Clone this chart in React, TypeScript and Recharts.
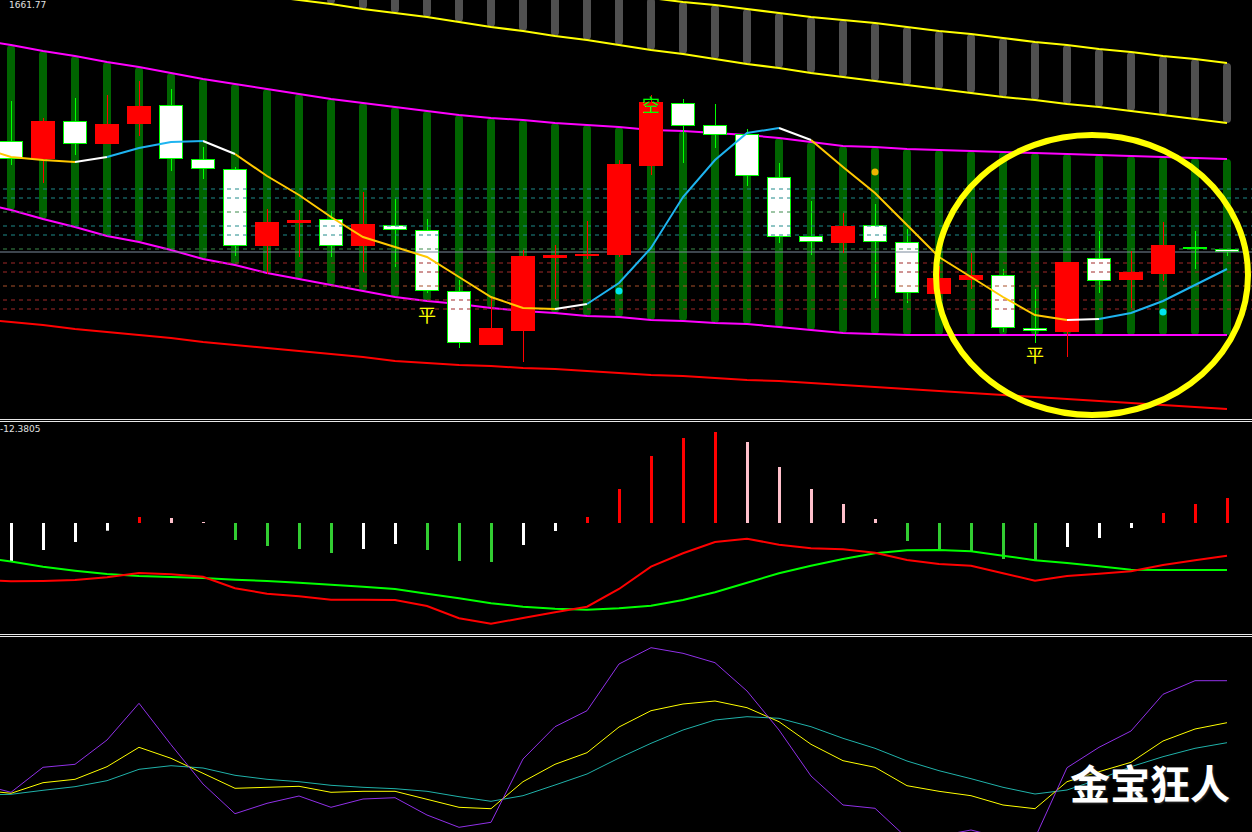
import { ComposedChart, Bar, Line, XAxis, YAxis, ReferenceLine, ReferenceDot, Cell } from 'recharts'

// bar 0 sits just off the left edge: only its line values show
const bars = Array.from({ length: 40 }, (_, i) => i)

// price candles
const open = [null, 1665.9, 1664.1, 1667.9, 1665.6, 1667.6, 1669.5, 1664.1, 1663.1, 1655.4, 1657.7, 1658.1, 1655.4, 1657.5, 1657.0, 1650.9, 1645.5, 1646.9, 1654.2, 1654.4, 1654.5, 1663.4, 1669.7, 1667.5, 1666.6, 1662.3, 1656.4, 1655.7, 1657.5, 1655.8, 1650.6, 1652.0, 1652.5, 1647.2, 1646.8, 1654.2, 1652.0, 1652.6, 1655.2, 1655.1]
const close = [null, 1664.1, 1667.9, 1665.6, 1667.6, 1669.4, 1664.1, 1663.1, 1655.4, 1657.8, 1658.0, 1655.4, 1657.6, 1657.0, 1650.9, 1645.7, 1647.2, 1654.4, 1654.5, 1654.6, 1663.6, 1669.8, 1667.4, 1666.5, 1662.4, 1656.3, 1655.8, 1657.4, 1655.8, 1650.7, 1652.2, 1652.5, 1647.2, 1646.9, 1653.8, 1651.9, 1652.8, 1655.5, 1655.2, 1654.8]
const high = [null, 1669.9, 1668.2, 1670.2, 1670.5, 1671.9, 1671.1, 1665.3, 1663.3, 1659.1, 1659.0, 1658.9, 1660.8, 1660.1, 1658.1, 1652.0, 1650.2, 1655.0, 1655.5, 1657.9, 1664.0, 1670.5, 1670.1, 1669.6, 1667.1, 1663.7, 1659.9, 1658.7, 1659.6, 1657.1, 1653.4, 1654.7, 1653.1, 1651.1, 1653.8, 1656.9, 1654.9, 1657.8, 1656.9, 1655.1]
const low = [null, 1663.5, 1661.7, 1664.5, 1665.6, 1666.4, 1662.9, 1662.1, 1654.4, 1652.6, 1654.3, 1654.3, 1652.8, 1653.3, 1650.7, 1645.2, 1645.5, 1643.8, 1650.1, 1654.1, 1654.3, 1662.5, 1663.7, 1665.2, 1661.4, 1655.7, 1654.5, 1654.7, 1650.2, 1649.7, 1650.6, 1651.1, 1646.8, 1645.7, 1644.3, 1650.7, 1649.2, 1651.9, 1653.1, 1654.4]

// magenta channel (green bars fill it)
const bandHigh = [1676.0, 1675.5, 1674.9, 1674.4, 1673.8, 1673.3, 1672.7, 1672.1, 1671.6, 1671.1, 1670.6, 1670.1, 1669.7, 1669.3, 1668.9, 1668.5, 1668.2, 1668.0, 1667.7, 1667.5, 1667.3, 1667.0, 1666.9, 1666.7, 1666.5, 1666.2, 1665.8, 1665.4, 1665.3, 1665.1, 1665.0, 1664.9, 1664.8, 1664.7, 1664.6, 1664.5, 1664.4, 1664.3, 1664.2, 1664.1]
const bandLow = [1659.7, 1659.0, 1658.1, 1657.3, 1656.4, 1655.8, 1655.0, 1654.1, 1653.5, 1652.7, 1652.1, 1651.5, 1650.9, 1650.3, 1649.9, 1649.6, 1649.2, 1648.9, 1648.7, 1648.4, 1648.3, 1648.0, 1647.9, 1647.7, 1647.6, 1647.3, 1647.0, 1646.7, 1646.6, 1646.5, 1646.5, 1646.5, 1646.5, 1646.5, 1646.5, 1646.5, 1646.5, 1646.5, 1646.5, 1646.5]

// yellow channel (grey bars fill it)
const railTop = [null, null, null, null, null, null, null, null, null, null, 1684.2, 1683.8, 1683.5, 1683.1, 1682.7, 1682.4, 1682.0, 1681.7, 1681.3, 1680.9, 1680.6, 1680.2, 1679.8, 1679.5, 1679.1, 1678.7, 1678.3, 1678.0, 1677.7, 1677.3, 1676.9, 1676.6, 1676.2, 1675.8, 1675.5, 1675.1, 1674.8, 1674.4, 1674.1, 1673.7]
const railBottom = [null, null, null, null, null, null, null, null, null, 1680.4, 1680.0, 1679.6, 1679.1, 1678.7, 1678.3, 1677.8, 1677.3, 1676.9, 1676.4, 1676.0, 1675.5, 1675.0, 1674.6, 1674.1, 1673.6, 1673.2, 1672.7, 1672.3, 1671.9, 1671.5, 1671.1, 1670.7, 1670.3, 1670.0, 1669.6, 1669.3, 1668.9, 1668.5, 1668.1, 1667.7]

// red support line
const support = [1648.1, 1647.8, 1647.5, 1647.1, 1646.8, 1646.5, 1646.2, 1645.8, 1645.5, 1645.2, 1644.9, 1644.6, 1644.3, 1643.9, 1643.7, 1643.5, 1643.4, 1643.2, 1643.1, 1642.9, 1642.7, 1642.5, 1642.4, 1642.2, 1642.0, 1641.9, 1641.7, 1641.5, 1641.3, 1641.1, 1640.9, 1640.7, 1640.5, 1640.3, 1640.1, 1639.9, 1639.7, 1639.5, 1639.3, 1639.1]

// moving average and the colour of each segment (Y yellow, W white, C cyan)
const ma = [1665.3, 1664.3, 1664.0, 1663.8, 1664.3, 1665.2, 1665.8, 1665.9, 1664.6, 1662.4, 1660.5, 1658.3, 1656.3, 1655.3, 1654.3, 1652.3, 1650.3, 1649.2, 1649.1, 1649.6, 1651.7, 1655.2, 1660.3, 1664.0, 1666.7, 1667.2, 1666.0, 1663.3, 1660.7, 1657.5, 1654.3, 1652.3, 1650.3, 1648.5, 1648.0, 1648.1, 1648.7, 1649.9, 1651.5, 1653.1]
const maSegments = 'YYYWCCCWYYYYYYYYYYWCCCCCCWYYYYYYYYWCCCC'

const dashedUpper = [1661.1, 1660.2, 1657.4, 1656.5]
const dashedGreen = [1658.8, 1655.1]
const priceLine = 1654.8
const dashedLower = [1653.7, 1652.8, 1650.0, 1649.1]
const dashedOrange = [1651.4]

const signalDots = [
  { bar: 20, price: 1650.9, color: '#00e5f0' },
  { bar: 28, price: 1662.8, color: '#f0b400' },
  { bar: 37, price: 1648.8, color: '#00e5f0' },
]
const signalText = [
  { bar: 14, price: 1648.6, text: '平', color: '#ffff00' },
  { bar: 21, price: 1669.6, text: '空', color: '#00ff00' },
  { bar: 33, price: 1644.6, text: '平', color: '#ffff00' },
]

// MACD panel
const hist = [null, -3.87, -2.7, -1.9, -0.77, 0.6, 0.5, 0.1, -1.7, -2.3, -2.6, -3.0, -2.6, -2.1, -2.7, -3.8, -3.9, -2.2, -0.8, 0.6, 3.4, 6.7, 8.5, 9.1, 8.1, 5.6, 3.4, 1.9, 0.4, -1.8, -2.6, -2.8, -3.6, -3.8, -2.4, -1.5, -0.5, 1.0, 1.9, 2.5]
const macdRed = [-5.7, -5.83, -5.8, -5.7, -5.43, -5.0, -5.13, -5.37, -6.53, -7.07, -7.33, -7.67, -7.67, -7.7, -8.3, -9.53, -10.07, -9.5, -8.93, -8.37, -6.6, -4.37, -3.03, -1.9, -1.57, -2.17, -2.53, -2.63, -2.97, -3.7, -4.1, -4.27, -5.03, -5.77, -5.3, -5.07, -4.83, -4.2, -3.73, -3.27]
const macdGreen = [-3.4, -3.85, -4.37, -4.77, -5.1, -5.3, -5.4, -5.5, -5.67, -5.8, -5.97, -6.17, -6.37, -6.6, -7.07, -7.53, -8.03, -8.37, -8.57, -8.67, -8.52, -8.27, -7.7, -6.93, -5.97, -5.03, -4.27, -3.6, -3.03, -2.73, -2.7, -2.83, -3.27, -3.73, -4.0, -4.33, -4.67, -4.7, -4.7, -4.7]

// KDJ panel
const kLine = [24, 19.85, 32.35, 33.85, 46, 64.35, 43.65, 24, 9.15, 14.35, 18, 12.35, 16.5, 17.15, 8.5, 2.35, 4.85, 36.5, 52.65, 60.65, 84, 92.15, 89.35, 84.65, 70.5, 51, 28, 13.5, 11.85, -3, -2, 1, -3, -3, 32.15, 42.35, 50.5, 68.85, 75.65, 75.65]
const dLine = [21, 19.35, 24.65, 26.35, 32.65, 42.35, 36.85, 29.35, 21.85, 22.35, 22.85, 19.85, 20.35, 20.35, 16.35, 12.35, 11.65, 25.15, 33.85, 39.65, 52.5, 60.65, 64, 65.5, 62.15, 55.15, 43.85, 35.65, 32.35, 23.15, 20.35, 18.15, 13.5, 11.65, 25.15, 30.15, 34.85, 45.5, 51.5, 54.65]
const jLine = [18.5, 18.85, 20.85, 22.65, 25.65, 31.35, 33.15, 32, 28.35, 26.35, 25.15, 23.35, 22.35, 21.65, 20.35, 17.65, 15.35, 18.15, 23.5, 29, 37, 44.35, 51, 56, 57.65, 56.85, 52.65, 46.85, 41.85, 35.5, 30.65, 26.65, 22.35, 19, 21, 26.35, 32.65, 37.65, 41.85, 44.65]

const W = 1289
const LEFT = -37
const PAD = { left: 0, right: 9 }
const NO_MARGIN = { top: 0, right: 0, bottom: 0, left: 0 }
const TOP_H = 418
const TOP_DOMAIN = [1638.2, 1680]
const MID_TOP = 422
const MID_H = 211
const MID_DOMAIN = [-11, 10.1]
const BOT_TOP = 637
const BOT_H = 195
const BOT_DOMAIN = [0, 97.5]

const maPart = (c: string) => ma.map((v, i) => (maSegments[i] === c || maSegments[i - 1] === c ? v : null))
const maYellow = maPart('Y')
const maWhite = maPart('W')
const maCyan = maPart('C')

const topData = bars.map((k, i) => {
  const has = open[i] != null
  const up = has && close[i]! >= open[i]!
  return {
    k,
    o: open[i],
    c: close[i],
    h: high[i],
    l: low[i],
    rise: has && up ? [low[i], high[i]] : null,
    fall: has && !up ? [low[i], high[i]] : null,
    band: i > 0 ? [bandLow[i], bandHigh[i]] : null,
    rail: railTop[i] != null && railBottom[i] != null ? [railBottom[i], railTop[i]] : null,
    bandHigh: bandHigh[i],
    bandLow: bandLow[i],
    railTop: railTop[i],
    railBottom: railBottom[i],
    support: support[i],
    maY: maYellow[i],
    maW: maWhite[i],
    maC: maCyan[i],
  }
})

function histColor(i: number) {
  const v = hist[i]
  const prev = hist[i - 1]
  if (v == null) return 'transparent'
  if (prev == null) return v >= 0 ? '#ff0000' : '#ffffff'
  if (v >= 0) return v >= prev ? '#ff0000' : '#ffc0cb'
  return v < prev ? '#32cd32' : '#ffffff'
}

const midData = bars.map((k, i) => ({ k, hist: hist[i], red: macdRed[i], green: macdGreen[i] }))
const botData = bars.map((k, i) => ({ k, kv: kLine[i], dv: dLine[i], jv: jLine[i] }))

function Candle(props: any) {
  const { x, y, width, height, payload } = props
  if (!payload || payload.o == null || height == null) return null
  const top = Math.min(y, y + height)
  const span = Math.abs(height)
  const k = span / (payload.h - payload.l)
  const py = (v: number) => top + (payload.h - v) * k
  const cx = Math.round(x + width / 2) + 0.5
  const bTop = Math.round(py(Math.max(payload.o, payload.c)))
  const bBot = Math.round(py(Math.min(payload.o, payload.c)))
  const doji = payload.o === payload.c
  const up = payload.c > payload.o
  const wick = up ? '#ff0000' : '#00ff00'
  return (
    <g>
      <line x1={cx} x2={cx} y1={top} y2={top + span} stroke={wick} strokeWidth={1} />
      {doji ? (
        <rect x={x} y={bTop - 1} width={width} height={2} fill="#00ff00" />
      ) : up ? (
        <rect x={x} y={bTop} width={width} height={Math.max(bBot - bTop, 1)} fill="#ff0000" />
      ) : (
        <rect x={x + 0.5} y={bTop + 0.5} width={width - 1} height={Math.max(bBot - bTop - 1, 1)} fill="#ffffff" stroke="#00ff00" strokeWidth={1} />
      )}
    </g>
  )
}

function Layer({ data, height, domain, top, children }: any) {
  return (
    <div style={{ position: 'absolute', left: LEFT, top }}>
      <ComposedChart width={W} height={height} data={data} margin={NO_MARGIN}>
        <XAxis dataKey="k" hide padding={PAD} scale="band" />
        <XAxis dataKey="k" hide padding={PAD} scale="band" xAxisId="b" />
        <XAxis dataKey="k" hide padding={PAD} scale="band" xAxisId="c" />
        <YAxis hide domain={domain} allowDataOverflow />
        {children}
      </ComposedChart>
    </div>
  )
}

const sep = (top: number) => (
  <div style={{ position: 'absolute', left: 0, top, width: 1252, height: 1, background: '#e8e8e8' }} />
)

export default function App() {
  return (
    <div style={{ position: 'fixed', left: 0, top: 0, width: 1252, height: 832, background: '#000', overflow: 'hidden' }}>
      <style>{'.crisp rect { shape-rendering: crispEdges; }'}</style>

      {/* price panel: channels behind */}
      <Layer data={topData} height={TOP_H} domain={TOP_DOMAIN} top={0}>
        <Bar dataKey="rail" xAxisId="b" barSize={8} fill="#505050" radius={4} isAnimationActive={false} />
        <Bar dataKey="band" xAxisId="c" barSize={8} fill="#006400" radius={4} isAnimationActive={false} />
        <Line dataKey="bandHigh" stroke="#ff00ff" strokeWidth={2} dot={false} isAnimationActive={false} />
        <Line dataKey="bandLow" stroke="#ff00ff" strokeWidth={2} dot={false} isAnimationActive={false} />
        <Line dataKey="railTop" stroke="#ffff00" strokeWidth={2} dot={false} isAnimationActive={false} />
        <Line dataKey="railBottom" stroke="#ffff00" strokeWidth={2} dot={false} isAnimationActive={false} />
        <Line dataKey="support" stroke="#ff0000" strokeWidth={2} dot={false} isAnimationActive={false} />
      </Layer>

      <div className="crisp">
        <Layer data={topData} height={TOP_H} domain={TOP_DOMAIN} top={0}>
          <Bar dataKey="fall" xAxisId="c" barSize={24} shape={Candle} isAnimationActive={false} />
        </Layer>
      </div>

      <Layer data={topData} height={TOP_H} domain={TOP_DOMAIN} top={0}>
        {dashedUpper.map((p) => (
          <ReferenceLine key={'u' + p} y={p} stroke="#1f8a8a" strokeDasharray="4 4" />
        ))}
        {dashedGreen.map((p) => (
          <ReferenceLine key={'g' + p} y={p} stroke="#3a8a4a" strokeDasharray="4 4" />
        ))}
        <ReferenceLine y={priceLine} stroke="#7a8a9c" />
        {dashedLower.map((p) => (
          <ReferenceLine key={'l' + p} y={p} stroke="#a02828" strokeDasharray="4 4" />
        ))}
        {dashedOrange.map((p) => (
          <ReferenceLine key={'o' + p} y={p} stroke="#a8502a" strokeDasharray="4 4" />
        ))}
      </Layer>

      <div className="crisp">
        <Layer data={topData} height={TOP_H} domain={TOP_DOMAIN} top={0}>
          <Bar dataKey="rise" xAxisId="c" barSize={24} shape={Candle} isAnimationActive={false} />
        </Layer>
      </div>

      <Layer data={topData} height={TOP_H} domain={TOP_DOMAIN} top={0}>
        <Line dataKey="maY" stroke="#ffc800" strokeWidth={2} dot={false} isAnimationActive={false} />
        <Line dataKey="maW" stroke="#ffffff" strokeWidth={2} dot={false} isAnimationActive={false} />
        <Line dataKey="maC" stroke="#1eb4f0" strokeWidth={2} dot={false} isAnimationActive={false} />
        {signalDots.map((d) => (
          <ReferenceDot key={'d' + d.bar} x={d.bar} y={d.price} r={3.5} fill={d.color} stroke="none" />
        ))}
        {signalText.map((t) => (
          <ReferenceDot
            key={'t' + t.bar}
            x={t.bar}
            y={t.price}
            r={0}
            shape={(p: any) => (
              <text
                x={p.cx}
                y={p.cy}
                fill={t.color}
                fontSize={18}
                fontFamily="Noto Sans CJK SC"
                textAnchor="middle"
                dominantBaseline="central"
              >
                {t.text}
              </text>
            )}
          />
        ))}
      </Layer>

      <svg width={1252} height={832} style={{ position: 'absolute', left: 0, top: 0 }}>
        <ellipse cx={1092} cy={275} rx={156} ry={140} fill="none" stroke="#ffff00" strokeWidth={6} />
      </svg>

      {sep(419)}
      {sep(421)}

      {/* MACD panel */}
      <div className="crisp">
        <Layer data={midData} height={MID_H} domain={MID_DOMAIN} top={MID_TOP}>
          <Bar dataKey="hist" barSize={3} isAnimationActive={false}>
            {midData.map((_, i) => (
              <Cell key={i} fill={histColor(i)} />
            ))}
          </Bar>
          <Line dataKey="green" stroke="#00ff00" strokeWidth={2} dot={false} isAnimationActive={false} />
          <Line dataKey="red" stroke="#ff0000" strokeWidth={2} dot={false} isAnimationActive={false} />
        </Layer>
      </div>

      {sep(634)}
      {sep(636)}

      {/* KDJ panel */}
      <Layer data={botData} height={BOT_H} domain={BOT_DOMAIN} top={BOT_TOP}>
        <Line dataKey="jv" stroke="#20b2aa" strokeWidth={1} dot={false} isAnimationActive={false} />
        <Line dataKey="dv" stroke="#ffff00" strokeWidth={1} dot={false} isAnimationActive={false} />
        <Line dataKey="kv" stroke="#9030e8" strokeWidth={1} dot={false} isAnimationActive={false} />
      </Layer>

      <div style={{ position: 'absolute', left: 9, top: 0, color: '#e0e0e0', fontSize: 9, lineHeight: '10px', fontFamily: 'DejaVu Sans' }}>1661.77</div>
      <div style={{ position: 'absolute', left: 0, top: 424, color: '#e0e0e0', fontSize: 9, fontFamily: 'DejaVu Sans' }}>-12.3805</div>
      <div
        style={{
          position: 'absolute',
          left: 1070,
          top: 762,
          color: '#ffffff',
          fontSize: 40,
          fontWeight: 700,
          lineHeight: 1,
          fontFamily: 'Noto Sans CJK SC',
          textShadow: '1px 1px 2px #333',
        }}
      >
        金宝狂人
      </div>
    </div>
  )
}
